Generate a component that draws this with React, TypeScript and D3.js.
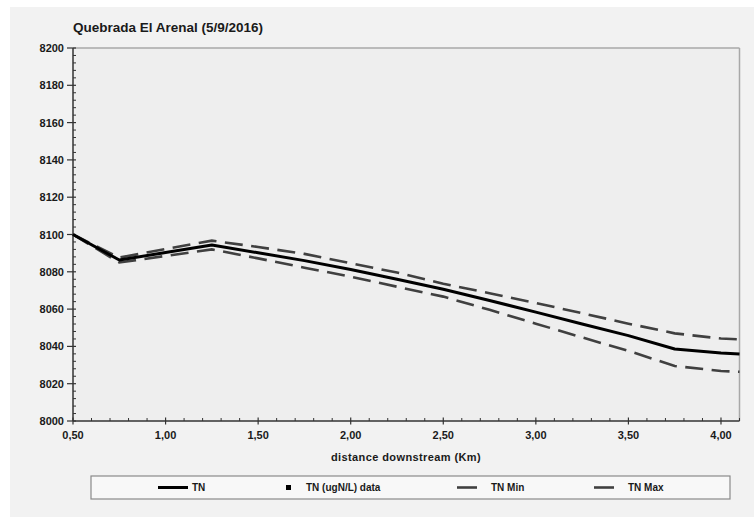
import React from "react";
import * as d3 from "d3";

const distance = [0.5, 0.75, 1.0, 1.25, 1.5, 1.75, 2.0, 2.25, 2.5, 2.75, 3.0, 3.25, 3.5, 3.75, 4.0, 4.1];
const tnValues = [8100, 8086.3, 8090.3, 8094.4, 8090.2, 8086, 8081.2, 8076, 8070.6, 8064.6, 8058.4, 8052, 8045.8, 8038.6, 8036.4, 8035.9];
const tnMaxValues = [8100, 8087.6, 8092.2, 8096.7, 8093.3, 8089.6, 8084.6, 8079.6, 8073.6, 8068.5, 8063.3, 8057.8, 8052.2, 8047, 8044.2, 8043.8];
const tnMinValues = [8100, 8085, 8088.5, 8092, 8087.2, 8082.2, 8077.4, 8072, 8066.7, 8059.6, 8052.2, 8044.8, 8037.6, 8029.5, 8026.8, 8026.4];
const xTicks = [0.5, 1.0, 1.5, 2.0, 2.5, 3.0, 3.5, 4.0];
const yTicks = [8000, 8020, 8040, 8060, 8080, 8100, 8120, 8140, 8160, 8180, 8200];
const legendLabels = ["TN", "TN (ugN/L) data", "TN Min", "TN Max"];
const title = "Quebrada El Arenal (5/9/2016)";
const xTitle = "distance downstream (Km)";

const FONT = "'Liberation Sans', Arial, sans-serif";

export default function App() {
  const W = 754, H = 517;
  const left = 73, right = 739.5, top = 48, bottom = 421;
  const x = d3.scaleLinear().domain([0.5, 4.1]).range([left, right]);
  const y = d3.scaleLinear().domain([8000, 8200]).range([bottom, top]);

  const line = d3
    .line<number>()
    .x((_, i) => x(distance[i]))
    .y((d) => y(d));

  const xMinor = d3.range(0.5, 4.1001, 0.1).filter((v) => Math.abs(v * 2 - Math.round(v * 2)) > 1e-6);
  const yMinor = d3.range(8000, 8200.01, 4).filter((v) => v % 20 !== 0);
  const fmt = (v: number) => d3.format(".2f")(v).replace(".", ",");

  return (
    <svg width={W} height={H} style={{ position: "absolute", left: 0, top: 0 }} fontFamily={FONT}>
      <rect x={0} y={0} width={W} height={H} fill="#ffffff" />
      <rect x={10} y={7} width={W - 10} height={H - 7} fill="#f2f2f2" />
      <rect x={left} y={top} width={right - left} height={bottom - top} fill="#eeeeee" />
      {/* plot frame top/right */}
      <line x1={left} x2={right} y1={top} y2={top} stroke="#a8a8a8" strokeWidth={1.5} />
      <line x1={right} x2={right} y1={top} y2={bottom} stroke="#a8a8a8" strokeWidth={1.5} />

      <text x={73} y={32} fontSize={13.5} fontWeight="bold" fill="#1a1a1a">{title}</text>

      {/* y axis */}
      <line x1={left} x2={left} y1={top} y2={bottom} stroke="#333" strokeWidth={1.5} />
      {yTicks.map((t) => (
        <g key={"y" + t}>
          <line x1={left - 6} x2={left + 3} y1={y(t)} y2={y(t)} stroke="#333" strokeWidth={1.2} />
          <text x={64} y={y(t) + 4} fontSize={11} fontWeight="bold" textAnchor="end" fill="#1a1a1a">{t}</text>
        </g>
      ))}
      {yMinor.map((t) => (
        <line key={"ym" + t} x1={left} x2={left + 3} y1={y(t)} y2={y(t)} stroke="#333" strokeWidth={1} />
      ))}

      {/* x axis */}
      <line x1={left} x2={right} y1={bottom} y2={bottom} stroke="#333" strokeWidth={1.5} />
      {xTicks.map((t) => (
        <g key={"x" + t}>
          <line x1={x(t)} x2={x(t)} y1={bottom - 3.5} y2={bottom + 3.5} stroke="#333" strokeWidth={1.2} />
          <text x={x(t)} y={439} fontSize={11} fontWeight="bold" textAnchor="middle" fill="#1a1a1a">{fmt(t)}</text>
        </g>
      ))}
      {xMinor.map((t, i) => (
        <line key={"xm" + i} x1={x(t)} x2={x(t)} y1={bottom - 3} y2={bottom} stroke="#333" strokeWidth={1} />
      ))}
      <text x={406} y={461} fontSize={11} fontWeight="bold" textAnchor="middle" fill="#1a1a1a" letterSpacing={0.4}>{xTitle}</text>

      {/* series */}
      <path d={line(tnMaxValues) || ""} fill="none" stroke="#404040" strokeWidth={2.6} strokeDasharray="18,8.5" />
      <path d={line(tnMinValues) || ""} fill="none" stroke="#404040" strokeWidth={2.6} strokeDasharray="18,8.5" />
      <path d={line(tnValues) || ""} fill="none" stroke="#000" strokeWidth={3} strokeLinejoin="round" />

      {/* legend */}
      <rect x={91} y={476} width={639} height={23} fill="#f8f8f8" stroke="#8a8a8a" strokeWidth={1.2} />
      <line x1={158} x2={188} y1={487.5} y2={487.5} stroke="#000" strokeWidth={3} />
      <text x={192} y={491} fontSize={10} fontWeight="bold" fill="#1a1a1a">{legendLabels[0]}</text>
      <rect x={286} y={485} width={5} height={5} fill="#000" />
      <text x={306} y={491} fontSize={10} fontWeight="bold" fill="#1a1a1a">{legendLabels[1]}</text>
      <line x1={457} x2={477} y1={487.5} y2={487.5} stroke="#404040" strokeWidth={2.6} />
      <text x={491} y={491} fontSize={10} fontWeight="bold" fill="#1a1a1a">{legendLabels[2]}</text>
      <line x1={594} x2={614} y1={487.5} y2={487.5} stroke="#404040" strokeWidth={2.6} />
      <text x={628} y={491} fontSize={10} fontWeight="bold" fill="#1a1a1a">{legendLabels[3]}</text>
    </svg>
  );
}
